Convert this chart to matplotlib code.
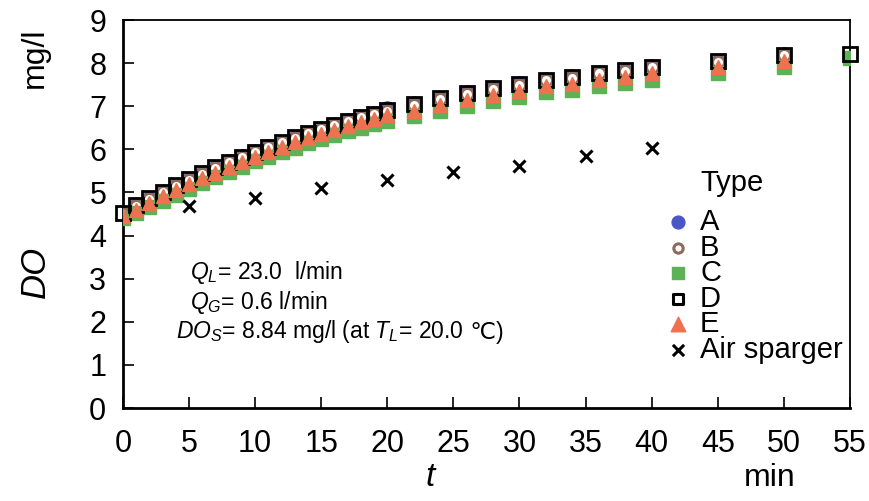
#!/usr/bin/env python3

"""DO rise over time for diffuser types A-E and an air sparger."""

import matplotlib
matplotlib.use('Agg')
import matplotlib.pyplot as plt

# Time points (min) for types A-E, C and D also have a reading at 55
t_main = [0, 1, 2, 3, 4, 5, 6, 7, 8, 9, 10, 11, 12, 13, 14, 15, 16, 17, 18,
          19, 20, 22, 24, 26, 28, 30, 32, 34, 36, 38, 40, 45, 50]
t_long = t_main + [55]
t_air = [5, 10, 15, 20, 25, 30, 35, 40]

do_a = [4.53, 4.71, 4.88, 5.03, 5.18, 5.32, 5.46, 5.59, 5.72, 5.84, 5.96,
        6.07, 6.18, 6.29, 6.39, 6.49, 6.58, 6.67, 6.76, 6.85, 6.95, 7.08,
        7.20, 7.33, 7.45, 7.55, 7.64, 7.70, 7.79, 7.85, 7.93, 8.06, 8.21]
do_b = [4.51, 4.69, 4.86, 5.01, 5.16, 5.30, 5.44, 5.57, 5.70, 5.82, 5.94,
        6.05, 6.16, 6.27, 6.37, 6.47, 6.56, 6.65, 6.74, 6.82, 6.90, 7.04,
        7.16, 7.29, 7.40, 7.50, 7.60, 7.66, 7.76, 7.82, 7.90, 8.03, 8.18]
do_c = [4.40, 4.52, 4.67, 4.81, 4.95, 5.09, 5.22, 5.35, 5.48, 5.60, 5.72,
        5.83, 5.94, 6.04, 6.14, 6.24, 6.33, 6.42, 6.50, 6.58, 6.66, 6.78,
        6.90, 7.01, 7.12, 7.22, 7.32, 7.38, 7.47, 7.53, 7.62, 7.76, 7.92,
        8.12]
do_d = [4.52, 4.70, 4.87, 5.02, 5.17, 5.31, 5.45, 5.58, 5.71, 5.83, 5.95,
        6.06, 6.17, 6.28, 6.38, 6.48, 6.57, 6.66, 6.75, 6.83, 6.91, 7.06,
        7.18, 7.30, 7.42, 7.52, 7.62, 7.68, 7.78, 7.84, 7.92, 8.05, 8.20,
        8.22]
do_e = [4.45, 4.60, 4.76, 4.91, 5.05, 5.19, 5.33, 5.46, 5.59, 5.71, 5.83,
        5.94, 6.05, 6.16, 6.26, 6.36, 6.45, 6.54, 6.63, 6.71, 6.79, 6.90,
        7.02, 7.14, 7.26, 7.36, 7.46, 7.52, 7.62, 7.68, 7.76, 7.90, 8.05]
do_air = [4.68, 4.88, 5.10, 5.29, 5.47, 5.62, 5.84, 6.03]

x_ticks = [0, 5, 10, 15, 20, 25, 30, 35, 40, 45, 50, 55]
y_ticks = [0, 1, 2, 3, 4, 5, 6, 7, 8, 9]

plt.rcParams['font.family'] = ['Liberation Sans', 'DejaVu Sans']
plt.rcParams['mathtext.fontset'] = 'custom'
plt.rcParams['mathtext.rm'] = 'Liberation Sans'
plt.rcParams['mathtext.it'] = 'Liberation Sans:italic'

fig = plt.figure(figsize=(8.69, 5.01), dpi=100)
ax = fig.add_axes([0.1415, 0.1856, 0.8365, 0.7744])

col_a = '#4a58c6'
col_b = '#8c6a5c'
col_c = '#5cb254'
col_e = '#ef7250'
ms = 9.5

ax.plot(t_main, do_a, 'o', color=col_a, ms=ms, mec=col_a, zorder=3)
ax.plot(t_main, do_b, 'o', mfc='white', mec=col_b, mew=2, ms=ms - 1,
        zorder=3)
ax.plot(t_long, do_c, 's', color=col_c, ms=ms, mec=col_c, zorder=3)
ax.plot(t_long, do_d, 's', mfc='none', mec='black', mew=2, ms=ms,
        zorder=4, clip_on=False)
ax.plot(t_main, do_e, '^', color=col_e, ms=ms + 1, mec=col_e, zorder=5)
ax.plot(t_air, do_air, 'x', color='black', ms=9, mew=2.2, zorder=5)

ax.set_xlim(0, 55)
ax.set_ylim(0, 9)
ax.set_xticks(x_ticks)
ax.set_yticks(y_ticks)
ax.tick_params(axis='both', direction='in', length=8, width=1.2,
               labelsize=22)
ax.tick_params(axis='x', pad=15)
ax.tick_params(axis='y', pad=12)
for s in ax.spines.values():
    s.set_linewidth(1.3)
ax.spines['left'].set_linewidth(2)
ax.spines['bottom'].set_linewidth(2)

# Axis labels placed like the original
fig.text(35 / 869, 1 - 58 / 501, 'mg/l', rotation=90, fontsize=23,
         ha='center', va='center')
fig.text(35 / 869, 1 - 272 / 501, 'DO', rotation=90, fontsize=25,
         style='italic', ha='center', va='center')
fig.text(430 / 869, 1 - 478 / 501, 't', fontsize=24, style='italic',
         ha='center', va='center')
fig.text(770 / 869, 1 - 478 / 501, 'min', fontsize=23,
         ha='center', va='center')

# Conditions
note = 16.5
fig.text(190 / 869, 1 - 272 / 501, r'$Q_{L}$= 23.0  l/min', fontsize=note,
         va='center')
fig.text(190 / 869, 1 - 302 / 501, r'$Q_{G}$= 0.6 l/min', fontsize=note,
         va='center')
do_s = fig.text(176 / 869, 1 - 338 / 501,
                r'$DO_{S}$= 8.84 mg/l (at $T_{L}$= 20.0', fontsize=note,
                va='baseline')
# the degree sign is not in the mathtext font, so it goes on separately
ax.annotate(' ℃)', xy=(1, 0), xycoords=do_s, xytext=(0, 4.5),
            textcoords='offset points', fontsize=note,
            va='baseline', ha='left', annotation_clip=False)

# Legend, drawn by hand to keep the tight row spacing
leg_size = 21
fig.text(700 / 869, 1 - 183 / 501, 'Type', fontsize=leg_size, va='center')
rows = [('A', dict(marker='o', color=col_a, s=85)),
        ('B', dict(marker='o', facecolors='white', edgecolors=col_b,
                   linewidths=2.2, s=45)),
        ('C', dict(marker='s', color=col_c, s=85)),
        ('D', dict(marker='s', facecolors='white', edgecolors='black',
                   linewidths=2.2, s=60)),
        ('E', dict(marker='^', color=col_e, s=110)),
        ('Air sparger', dict(marker='x', color='black', linewidths=2.2,
                             s=65))]
for i, (label, kw) in enumerate(rows):
    y = 1 - (222 + i * 25.6) / 501
    ax.scatter([678 / 869], [y], transform=fig.transFigure, clip_on=False,
               zorder=6, **kw)
    fig.text(700 / 869, y, label, fontsize=leg_size, va='center')

plt.savefig('out.png', dpi=100)
